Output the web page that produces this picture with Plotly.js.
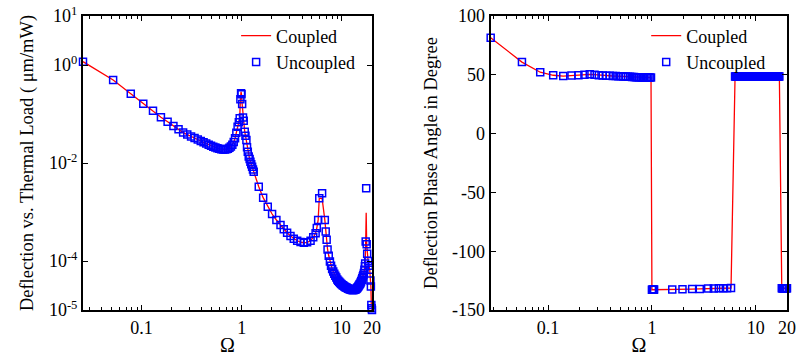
<!DOCTYPE html>
<html><head><meta charset="utf-8">
<script src="https://cdn.plot.ly/plotly-3.0.1.min.js"></script>
<style>html,body{margin:0;padding:0;background:#fff}#chart{width:798px;height:356px}</style>
</head><body><div id="chart"></div>
<script>
// ---------- Left panel: deflection amplitude (log-log) ----------
const omegaLeft = [0.026,0.052,0.078,0.104,0.13,0.156,0.182,0.208,0.234,0.26,0.286,0.312,0.338,0.364,0.39,0.416,0.442,0.468,0.494,0.52,0.546,0.572,0.598,0.624,0.65,0.676,0.702,0.728,0.754,0.78,0.806,0.832,0.858,0.884,0.91,0.936,0.955,0.97,0.985,0.995,1.01,1.03,1.047,1.072,1.09,1.114,1.13,1.15,1.175,1.2,1.222,1.245,1.27,1.295,1.318,1.48,1.637,1.82,2.01,2.22,2.44,2.63,2.84,3.07,3.31,3.58,3.87,4.17,4.5,4.87,5.18,5.47,5.62,5.8,5.95,6.35,6.76,6.9,7.05,7.2,7.4,7.6,7.8,8.0,8.2,8.4,8.6,8.8,9.0,9.2,9.4,9.6,9.8,10.0,10.2,10.4,10.6,10.8,11.0,11.2,11.4,11.6,11.8,12.0,12.2,12.4,12.6,12.8,13.0,13.2,13.4,13.6,13.8,14.0,14.2,14.4,14.6,14.8,15.0,15.2,15.4,15.6,15.8,16.0,16.2,16.4,16.6,16.8,17.0,17.1,17.3,17.5,17.7,17.9,18.3,18.6,19.0,19.3,19.5,19.7,19.85,20.0];
const deflUncoupled = [1.17,0.494,0.26,0.162,0.117,0.0855,0.0697,0.0569,0.0486,0.0417,0.038,0.0346,0.0322,0.03,0.0281,0.0264,0.0249,0.0236,0.0225,0.0215,0.0207,0.02,0.0195,0.0191,0.0189,0.0189,0.0191,0.0196,0.0204,0.0217,0.0237,0.0268,0.032,0.0415,0.055,0.068,0.082,0.2,0.264,0.252,0.16,0.085,0.073,0.0435,0.036,0.0295,0.021,0.017,0.0135,0.012,0.0106,0.0094,0.0084,0.0074,0.0066,0.00328,0.00196,0.00128,0.00091,0.000687,0.000543,0.000443,0.000378,0.000324,0.000285,0.000259,0.000244,0.000236,0.00024,0.000259,0.000304,0.000367,0.00047,0.00069,0.0019,0.0024,0.00069,0.0004,0.00027,0.000172,0.000128,0.000098,0.00008,0.000069,0.000061,0.000055,0.00005,0.000046,0.000042,0.0000395,0.0000375,0.0000358,0.0000344,0.0000332,0.0000321,0.0000312,0.0000303,0.0000296,0.0000289,0.0000283,0.0000277,0.0000272,0.0000268,0.0000264,0.0000261,0.0000259,0.0000257,0.0000256,0.0000256,0.0000257,0.0000258,0.0000261,0.0000265,0.0000272,0.000028,0.000029,0.0000302,0.0000316,0.000033,0.0000345,0.0000365,0.0000388,0.0000415,0.0000445,0.000048,0.000052,0.000057,0.000066,0.000078,0.000089,0.00025,0.00305,0.00022,0.00014,0.0001,0.00008,0.000066,0.00004,0.00003,0.0000126,0.0000108,0.00001];
const deflCoupled = [1.17,0.494,0.26,0.162,0.117,0.0855,0.0697,0.0569,0.0486,0.0417,0.038,0.0346,0.0322,0.03,0.0281,0.0264,0.0249,0.0236,0.0225,0.0215,0.0207,0.02,0.0195,0.0191,0.0189,0.0189,0.0191,0.0196,0.0204,0.0217,0.0237,0.0268,0.032,0.0415,0.055,0.068,0.082,0.2,0.285,0.252,0.16,0.085,0.073,0.0435,0.036,0.0295,0.021,0.017,0.0135,0.012,0.0106,0.0094,0.0084,0.0074,0.0066,0.00328,0.00196,0.00128,0.00091,0.000687,0.000543,0.000443,0.000378,0.000324,0.000285,0.000259,0.000244,0.000236,0.00024,0.000259,0.000304,0.000367,0.00047,0.00069,0.0019,0.0019,0.00069,0.0004,0.00027,0.000172,0.000128,0.000098,0.00008,0.000069,0.000061,0.000055,0.00005,0.000046,0.000042,0.0000395,0.0000375,0.0000358,0.0000344,0.0000332,0.0000321,0.0000312,0.0000303,0.0000296,0.0000289,0.0000283,0.0000277,0.0000272,0.0000268,0.0000264,0.0000261,0.0000259,0.0000257,0.0000256,0.0000256,0.0000257,0.0000258,0.0000261,0.0000265,0.0000272,0.000028,0.000029,0.0000302,0.0000316,0.000033,0.0000345,0.0000365,0.0000388,0.0000415,0.0000445,0.000048,0.000052,0.000057,0.000066,0.000078,0.000089,0.00025,0.00097,0.00022,0.00014,0.0001,0.00008,0.000066,0.00004,0.00003,0.0000126,0.0000108,0.00001];

// ---------- Right panel: phase angle (degrees) ----------
const omegaRight = [0.028,0.056,0.084,0.112,0.14,0.168,0.196,0.224,0.252,0.28,0.308,0.336,0.364,0.392,0.42,0.448,0.476,0.504,0.532,0.56,0.588,0.616,0.644,0.672,0.7,0.728,0.756,0.784,0.812,0.84,0.868,0.896,0.924,0.952,0.98,1.0,1.01,1.02,1.03,1.04,1.05,1.57,1.97,2.44,2.89,3.48,3.95,4.41,4.85,5.3,5.78,6.32,6.4,6.5,6.6,6.7,6.8,6.9,7.0,7.1,7.2,7.3,7.4,7.5,7.6,7.7,7.8,7.9,8.0,8.2,8.4,8.6,8.8,9.0,9.2,9.4,9.6,9.8,10.0,10.2,10.4,10.6,10.8,11.0,11.2,11.4,11.6,11.8,12.0,12.2,12.4,12.6,12.8,13.0,13.2,13.4,13.6,13.8,14.0,14.2,14.4,14.6,14.8,15.0,15.2,15.4,15.6,15.8,16.0,16.2,16.4,16.6,16.89,17.81,18.0,18.2,18.4,18.6,18.8,19.0,19.2,19.4,19.6,19.8,20.0];
const phaseUncoupled = [81.5,60.8,52.2,49.6,48.9,49.4,49.7,50.0,50.4,50.1,49.7,49.4,49.2,49.1,49.0,48.9,48.8,48.7,48.6,48.5,48.4,48.3,48.2,48.1,48.0,48.0,47.9,47.9,47.8,47.8,47.8,47.7,47.7,47.7,47.6,-132.8,-132.8,-132.7,-132.7,-132.7,-132.6,-132.5,-132.3,-132.2,-132.1,-131.8,-131.7,-131.6,-131.5,-131.4,-131.3,48.6,48.6,48.6,48.6,48.6,48.6,48.6,48.6,48.6,48.6,48.6,48.6,48.6,48.6,48.6,48.6,48.6,48.6,48.6,48.6,48.6,48.6,48.6,48.6,48.6,48.6,48.6,48.6,48.6,48.6,48.6,48.6,48.6,48.6,48.6,48.6,48.6,48.6,48.6,48.6,48.6,48.6,48.6,48.6,48.6,48.6,48.6,48.6,48.6,48.6,48.6,48.6,48.6,48.6,48.6,48.6,48.6,48.6,48.6,48.6,48.6,48.6,-131.5,-131.5,-131.5,-131.5,-131.5,-131.5,-131.5,-131.5,-131.5,-131.5,-131.5,-131.5];
const phaseCoupled = [81.5,60.8,52.2,49.6,48.9,49.4,49.7,50.0,50.4,50.1,49.7,49.4,49.2,49.1,49.0,48.9,48.8,48.7,48.6,48.5,48.4,48.3,48.2,48.1,48.0,48.0,47.9,47.9,47.8,47.8,47.8,47.7,47.7,47.7,47.6,-132.8,-132.8,-132.7,-132.7,-132.7,-132.6,-132.5,-132.3,-132.2,-132.1,-131.8,-131.7,-131.6,-131.5,-131.4,-131.3,48.6,48.6,48.6,48.6,48.6,48.6,48.6,48.6,48.6,48.6,48.6,48.6,48.6,48.6,48.6,48.6,48.6,48.6,48.6,48.6,48.6,48.6,48.6,48.6,48.6,48.6,48.6,48.6,48.6,48.6,48.6,48.6,48.6,48.6,48.6,48.6,48.6,48.6,48.6,48.6,48.6,48.6,48.6,48.6,48.6,48.6,48.6,48.6,48.6,48.6,48.6,48.6,48.6,48.6,48.6,48.6,48.6,48.6,48.6,48.6,48.6,48.6,-131.5,-131.5,-131.5,-131.5,-131.5,-131.5,-131.5,-131.5,-131.5,-131.5,-131.5,-131.5];

// ---------- Tick labels ----------
const xTickVals = [0.1, 1, 10, 20];
const xTickText = ['0.1', '1', '10', '20'];
const yLeftTickVals = [1e-5, 1e-4, 1e-2, 1e0, 1e1];
const yLeftTickText = ['10<sup>-5</sup>', '10<sup>-4</sup>', '10<sup>-2</sup>', '10<sup>0</sup>', '10<sup>1</sup>'];
const yRightTickVals = [-150, -100, -50, 0, 50, 100];
const yRightTickText = ['-150', '-100', '-50', '0', '50', '100'];

const FONT = '"Liberation Serif", "Times New Roman", Times, serif';
const lineStyle = {color: '#ff0000', width: 1.3};
const markerStyle = {symbol: 'square-open', size: 7, color: '#0000ff', line: {width: 1.5, color: '#0000ff'}};

const traces = [
  {x: omegaLeft, y: deflCoupled, name: 'Coupled', mode: 'lines', line: lineStyle, xaxis: 'x', yaxis: 'y', legend: 'legend'},
  {x: omegaLeft, y: deflUncoupled, name: 'Uncoupled', mode: 'markers', marker: markerStyle, cliponaxis: false, xaxis: 'x', yaxis: 'y', legend: 'legend'},
  {x: omegaRight, y: phaseCoupled, name: 'Coupled', mode: 'lines', line: lineStyle, xaxis: 'x2', yaxis: 'y2', legend: 'legend2'},
  {x: omegaRight, y: phaseUncoupled, name: 'Uncoupled', mode: 'markers', marker: markerStyle, cliponaxis: false, xaxis: 'x2', yaxis: 'y2', legend: 'legend2'}
];

const axBase = {
  showline: true, linewidth: 2, linecolor: '#000', mirror: 'ticks',
  ticks: 'inside', ticklen: 5, tickwidth: 1, tickcolor: '#000',
  showgrid: false, zeroline: false, tickfont: {family: FONT, size: 18, color: '#000'}
};
const minorX = {ticks: 'inside', ticklen: 3, tickwidth: 1, tickcolor: '#000', dtick: 'D1', showgrid: false};

const layout = {
  width: 798, height: 356,
  margin: {l: 83, r: 11, t: 16, b: 46},
  paper_bgcolor: '#fff', plot_bgcolor: '#fff',
  font: {family: FONT, size: 18, color: '#000'},
  showlegend: true,
  xaxis: Object.assign({}, axBase, {
    type: 'log', domain: [0, 0.4105], anchor: 'y',
    range: [Math.log10(0.026), Math.log10(20)],
    tickmode: 'array', tickvals: xTickVals, ticktext: xTickText, minor: minorX,
    title: {text: 'Ω', font: {family: FONT, size: 20, color: '#000'}, standoff: 6}
  }),
  yaxis: Object.assign({}, axBase, {
    type: 'log', domain: [0, 1], anchor: 'x', range: [-5, 1],
    tickmode: 'array', tickvals: yLeftTickVals, ticktext: yLeftTickText,
    title: {text: 'Deflection vs. Thermal Load ( μm/mW)', font: {family: FONT, size: 18.5, color: '#000'}, standoff: 10}
  }),
  xaxis2: Object.assign({}, axBase, {
    type: 'log', domain: [0.5791, 1], anchor: 'y2',
    range: [Math.log10(0.028), Math.log10(20)],
    tickmode: 'array', tickvals: xTickVals, ticktext: xTickText, minor: minorX,
    title: {text: 'Ω', font: {family: FONT, size: 20, color: '#000'}, standoff: 6}
  }),
  yaxis2: Object.assign({}, axBase, {
    domain: [0, 1], anchor: 'x2', range: [-150, 100],
    tickmode: 'array', tickvals: yRightTickVals, ticktext: yRightTickText,
    title: {text: 'Deflection Phase Angle in Degree', font: {family: FONT, size: 18.5, color: '#000'}, standoff: 10}
  }),
  legend: {x: 0.2175, y: 0.995, xanchor: 'left', yanchor: 'top', bgcolor: 'rgba(0,0,0,0)', borderwidth: 0,
           font: {family: FONT, size: 18, color: '#000'}},
  legend2: {x: 0.8, y: 0.995, xanchor: 'left', yanchor: 'top', bgcolor: 'rgba(0,0,0,0)', borderwidth: 0,
            font: {family: FONT, size: 18, color: '#000'}}
};

Plotly.newPlot('chart', traces, layout, {displayModeBar: false, staticPlot: true});
</script></body></html>
